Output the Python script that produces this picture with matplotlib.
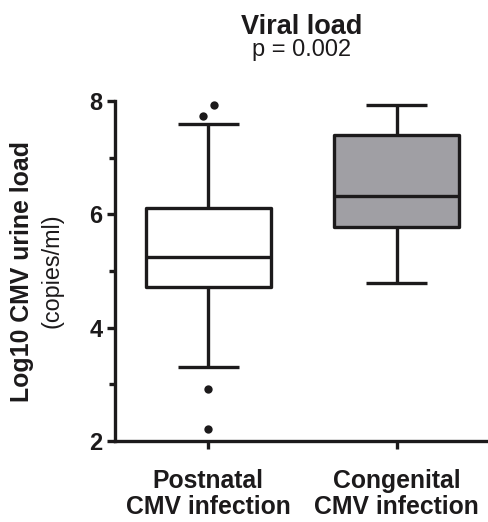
import matplotlib
matplotlib.use("Agg")
import matplotlib.pyplot as plt

plt.rcParams['font.family'] = ['Liberation Sans', 'DejaVu Sans']

# ---- data ----
groups = ["Postnatal\nCMV infection", "Congenital\nCMV infection"]
whisker_low = [3.31, 4.78]
q1 = [4.71, 5.78]
median = [5.24, 6.33]
q3 = [6.12, 7.40]
whisker_high = [7.59, 7.93]
outliers = [[7.74, 7.93, 2.92, 2.21], []]
outlier_offsets = [[-0.028, 0.03, 0.0, 0.0], []]
box_colors = ["white", "#a09fa4"]
yticks = [2, 4, 6, 8]
title = "Viral load"
subtitle = "p = 0.002"
ylabel_main = "Log10 CMV urine load"
ylabel_sub = "(copies/ml)"

ink = "#1c1a1b"
lw = 2.4

fig = plt.figure(figsize=(4.88, 5.22), dpi=100)
ax = fig.add_axes([115 / 488, 1 - 441 / 522, (488 - 115) / 488, (441 - 101) / 522])

stats = []
for i in range(len(groups)):
    stats.append(dict(med=median[i], q1=q1[i], q3=q3[i],
                      whislo=whisker_low[i], whishi=whisker_high[i],
                      fliers=[], label=groups[i]))

positions = list(range(1, len(groups) + 1))
bp = ax.bxp(stats, positions=positions, widths=0.665, showfliers=False,
            patch_artist=True,
            boxprops=dict(linewidth=lw, edgecolor=ink, joinstyle='round'),
            medianprops=dict(color=ink, linewidth=lw, solid_capstyle='butt'),
            whiskerprops=dict(color=ink, linewidth=lw, solid_capstyle='butt'),
            capprops=dict(color=ink, linewidth=lw, solid_capstyle='butt'),
            capwidths=0.325)
for patch, c in zip(bp['boxes'], box_colors):
    patch.set_facecolor(c)

for i, (vals, offs) in enumerate(zip(outliers, outlier_offsets)):
    if vals:
        xs = [positions[i] + o for o in offs]
        ax.scatter(xs, vals, s=36, color=ink, zorder=5, clip_on=False, linewidths=0)

ax.set_ylim(2, 8)
ax.set_xlim(0.505, 2.484)
ax.set_yticks(yticks)
ax.set_yticks([3, 5, 7], minor=True)
ax.set_yticklabels([str(t) for t in yticks], fontsize=17, fontweight='bold', color=ink)
ax.set_xticks(positions)
ax.set_xticklabels(groups, fontsize=17.8, fontweight='bold', color=ink, linespacing=1.1)

for s in ['top', 'right']:
    ax.spines[s].set_visible(False)
for s in ['left', 'bottom']:
    ax.spines[s].set_linewidth(lw)
    ax.spines[s].set_color(ink)
    ax.spines[s].set_capstyle('projecting')
ax.tick_params(axis='y', which='major', length=6, width=lw, color=ink, pad=3)
ax.tick_params(axis='y', which='minor', length=4, width=lw, color=ink)
ax.tick_params(axis='x', which='major', length=6, width=lw, color=ink, pad=14)

cx = (115 + 488) / 2 / 488
fig.text(cx, 1 - 34 / 522, title, ha='center', va='baseline', fontsize=19.5,
         fontweight='bold', color=ink)
fig.text(cx, 1 - 56 / 522, subtitle, ha='center', va='baseline', fontsize=17,
         color=ink)

ymid = 1 - 271 / 522
fig.text(22 / 488, ymid, ylabel_main, rotation=90, ha='center', va='center',
         fontsize=17.9, fontweight='bold', color=ink)
fig.text(52 / 488, ymid, ylabel_sub, rotation=90, ha='center', va='center',
         fontsize=16.8, color=ink)

fig.savefig("out.png", dpi=100)
